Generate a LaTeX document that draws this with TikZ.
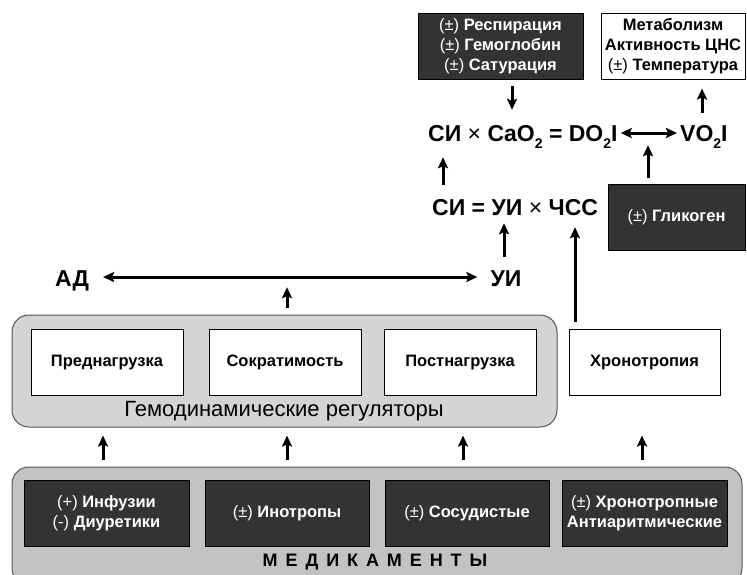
\documentclass[tikz,border=0pt]{standalone}
\usepackage{fontspec}
\setmainfont{Liberation Sans}
\usetikzlibrary{arrows.meta,calc}
\definecolor{darkfill}{HTML}{333333}
\definecolor{grpA}{HTML}{D4D4D4}
\definecolor{grpB}{HTML}{C2C2C2}
\definecolor{grpline}{HTML}{555555}
\newcommand\lowtwo{\raisebox{-0.32em}{\fontsize{14}{14}\selectfont 2}}
\newcommand\pmr[1]{{\mdseries(#1)}}
\tikzset{
  darkbox/.style={draw=black, fill=darkfill, text=white, minimum width=165pt, minimum height=66pt,
    inner sep=0pt, align=center, font=\bfseries\fontsize{16.5}{20}\selectfont},
  whitebox/.style={draw=black, line width=1pt, fill=white, minimum width=152pt, minimum height=66pt,
    inner sep=0pt, align=center, font=\bfseries\fontsize{16.5}{20}\selectfont},
  oneline/.style={text height=12pt, text depth=3.5pt},
  grp/.style={draw=grpline, line width=1pt, rounded corners=17pt, inner sep=0pt},
  eqtext/.style={inner sep=0pt, text height=16pt, text depth=0pt, font=\bfseries\fontsize{23}{23}\selectfont},
  arr/.style={line width=3pt, -{Stealth[length=11pt,width=10pt,inset=2pt]}},
  darr/.style={line width=3pt, {Stealth[length=11pt,width=10pt,inset=2pt]}-{Stealth[length=11pt,width=10pt,inset=2pt]}},
}
\begin{document}
\begin{tikzpicture}[x=1pt,y=-1pt]
\useasboundingbox (0,0) rectangle (747,574);
% top boxes
\node[darkbox] (resp) at (500.5,46) {\pmr{±} Респирация\\\pmr{±} Гемоглобин\\\pmr{±} Сатурация};
\node[whitebox, minimum width=144pt] (meta) at (673,46) {Метаболизм\\Активность ЦНС\\\pmr{±} Температура};
% equations
\node[eqtext, anchor=west] (eqL) at (428,133) {СИ {\mdseries×} CaO\lowtwo{} = DO\lowtwo I};
\node[eqtext, anchor=west] (vo) at (680,133) {VO\lowtwo I};
\node[eqtext, anchor=west] (ci) at (432,207) {СИ = УИ {\mdseries×} ЧСС};
\node[darkbox, oneline, minimum width=137pt] (glyk) at (676.5,217) {\pmr{±} Гликоген};
% АД / УИ
\node[eqtext] (ad) at (72,278) {АД};
\node[eqtext] (ui) at (506,278) {УИ};
% group 1
\node[grp, fill=grpA, minimum width=545pt, minimum height=112pt] (grp1) at (284.5,371) {};
\node[whitebox, oneline] (pred) at (107,362) {Преднагрузка};
\node[whitebox, oneline] (sokr) at (285,362) {Сократимость};
\node[whitebox, oneline] (post) at (460,362) {Постнагрузка};
\node[whitebox, oneline, minimum width=151pt] (khron) at (644.5,362) {Хронотропия};
\node[inner sep=0pt, font=\fontsize{22}{22}\selectfont] (grp1t) at (284,411) {Гемодинамические регуляторы};
% group 2
\node[grp, fill=grpB, minimum width=730pt, minimum height=118pt] (grp2) at (377,526) {};
\node[darkbox] (d1) at (106.5,513) {\pmr{+} Инфузии\\\pmr{-} Диуретики};
\node[darkbox, oneline, minimum width=164pt] (d2) at (287,513) {\pmr{±} Инотропы};
\node[darkbox, oneline, minimum width=164pt] (d3) at (467,513) {\pmr{±} Сосудистые};
\node[darkbox] (d4) at (644.5,513) {\pmr{±} Хронотропные\\Антиаритмические};
\node[inner sep=0pt, font=\bfseries\fontsize{18}{18}\selectfont\addfontfeature{LetterSpace=44}] (grp2t) at (375,562) {МЕДИКАМЕНТЫ};
% arrows top
\draw[arr] ($(resp.south)+(11.5,7)$) -- ($(eqL.north -| resp.south)+(11.5,-15)$);
\draw[arr] ($(vo.north -| meta.south)+(29,-12)$) -- ($(meta.south)+(29,9)$);
\draw[darr] ([xshift=3pt]eqL.east) -- ([xshift=-3pt]vo.west);
\draw[arr] ($(ci.north west)+(11,-14)$) -- ($(eqL.south west)+(15,16)$);
\draw[arr] ($(glyk.north)+(-28.5,-6)$) -- ($(glyk.north |- eqL.south)+(-28.5,4)$);
\draw[arr] ($(ui.north)+(-2,-13)$) -- ($(ui.north |- ci.south)+(-2,8)$);
\draw[arr] ($(khron.north)+(-69.5,-7)$) -- ($(khron.north |- ci.south)+(-69.5,12)$);
% АД <-> УИ
\draw[darr] ($(ad.east)+(14,-1)$) -- ($(ui.west)+(-13,-1)$);
\draw[arr] ($(sokr.north |- grp1.north)+(2,-7)$) -- ($(sokr.north |- ad.south)+(2,1)$);
% bottom arrows
\draw[arr] ($(d1.north |- grp2.north)+(-3.5,-7)$) -- ($(d1.north |- grp1.south)+(-3.5,8)$);
\draw[arr] ($(d2.north |- grp2.north)+(0,-7)$) -- ($(d2.north |- grp1.south)+(0,8)$);
\draw[arr] ($(d3.north |- grp2.north)+(-4,-7)$) -- ($(d3.north |- grp1.south)+(-4,8)$);
\draw[arr] ($(d4.north |- grp2.north)+(-2.5,-7)$) -- ($(khron.south)+(-2.5,40)$);
\end{tikzpicture}
\end{document}
